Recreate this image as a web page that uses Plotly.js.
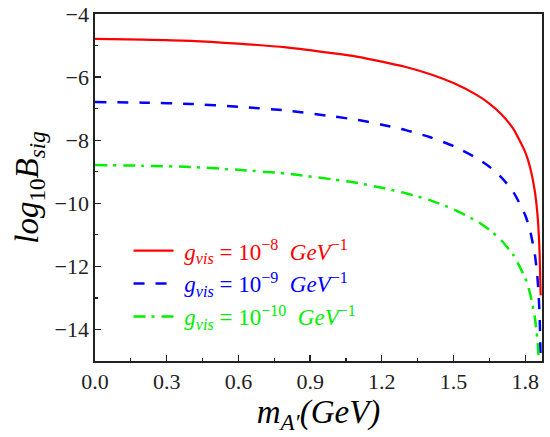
<!DOCTYPE html>
<html>
<head>
<meta charset="utf-8">
<script src="https://cdn.plot.ly/plotly-3.0.1.min.js"></script>
<style>html,body{margin:0;padding:0;background:#fff;}#plot{width:550px;height:437px;}</style>
</head>
<body>
<div id="plot"></div>
<script>
var mass = [0, 0.2, 0.4, 0.6, 0.8, 1.0, 1.1, 1.2, 1.3, 1.4, 1.5, 1.6, 1.65, 1.7, 1.75, 1.8, 1.82, 1.84, 1.85, 1.855, 1.86, 1.863, 1.8645, 1.8655, 1.866];
var logB_g8  = [-4.79, -4.81, -4.85, -4.94, -5.06, -5.25, -5.36, -5.51, -5.68, -5.90, -6.19, -6.58, -6.84, -7.18, -7.64, -8.38, -8.86, -9.62, -10.27, -10.77, -11.58, -12.52, -12.92, null, null];
var logB_g9  = [-6.79, -6.81, -6.85, -6.94, -7.06, -7.25, -7.36, -7.51, -7.68, -7.90, -8.19, -8.58, -8.84, -9.18, -9.64, -10.38, -10.86, -11.62, -12.27, -12.77, -13.58, -14.52, -15.2, -16.0, -17.0];
var logB_g10 = [-8.79, -8.81, -8.85, -8.94, -9.06, -9.25, -9.36, -9.51, -9.68, -9.90, -10.19, -10.58, -10.84, -11.18, -11.64, -12.38, -12.86, -13.62, -14.27, -14.77, -15.58, -16.5, -17.2, -18.0, -19.0];
var seriesNames = [
  '<span style="color:#ff0000"> <i>g</i><sub><i>vis</i></sub> = 10<sup>\u22128</sup>  <i>GeV</i><sup>\u22121</sup></span>',
  '<span style="color:#0000ff"> <i>g</i><sub><i>vis</i></sub> = 10<sup>\u22129</sup>  <i>GeV</i><sup>\u22121</sup></span>',
  '<span style="color:#00ee00"> <i>g</i><sub><i>vis</i></sub> = 10<sup>\u221210</sup>  <i>GeV</i><sup>\u22121</sup></span>'
];
var xTicks = [0, 0.3, 0.6, 0.9, 1.2, 1.5, 1.8];
var xTickText = ['0.0', '0.3', '0.6', '0.9', '1.2', '1.5', '1.8'];
var yTicks = [-4, -6, -8, -10, -12, -14];
var yTickText = ['\u22124', '\u22126', '\u22128', '\u221210', '\u221212', '\u221214'];

var serif = "Liberation Serif";
var traces = [
  {x: mass, y: logB_g8, mode: 'lines', name: seriesNames[0], line: {color: '#ff0000', width: 2.2, shape: 'spline', smoothing: 0.6}},
  {x: mass, y: logB_g9, mode: 'lines', name: seriesNames[1], line: {color: '#0000ff', width: 2.5, dash: '11px,11px', shape: 'spline', smoothing: 0.6}},
  {x: mass, y: logB_g10, mode: 'lines', name: seriesNames[2], line: {color: '#00ee00', width: 2.5, dash: '12px,6px,3px,7px', shape: 'spline', smoothing: 0.6}}
];

var layout = {
  width: 550, height: 437,
  margin: {l: 95, r: 8, t: 14, b: 76},
  font: {family: serif, size: 22, color: '#222'},
  paper_bgcolor: '#fff', plot_bgcolor: '#fff',
  showlegend: true,
  legend: {x: 0.075, y: 0.38, xanchor: 'left', yanchor: 'top', bgcolor: 'rgba(0,0,0,0)',
           font: {family: serif, size: 23}, itemwidth: 40, tracegroupgap: 0},
  xaxis: {
    range: [0, 1.87], tickmode: 'array', tickvals: xTicks, ticktext: xTickText,
    tickfont: {family: serif, size: 22, color: '#222'},
    ticks: 'inside', ticklen: 6, tickwidth: 1.3, tickcolor: '#222',
    minor: {dtick: 0.15, tick0: 0, ticks: 'inside', ticklen: 3, tickwidth: 1.2, tickcolor: '#222'},
    showline: true, linecolor: '#222', linewidth: 1.6, mirror: true,
    showgrid: false, zeroline: false,
    title: {text: '<i>m</i><sub><i>A\u2032</i></sub><i>(GeV)</i>', font: {family: serif, size: 33, color: '#000'}, standoff: 2}
  },
  yaxis: {
    range: [-15, -4], tickmode: 'array', tickvals: yTicks, ticktext: yTickText,
    tickfont: {family: serif, size: 22, color: '#222'},
    ticks: 'inside', ticklen: 6, tickwidth: 1.3, tickcolor: '#222',
    minor: {dtick: 1, tick0: -15, ticks: 'inside', ticklen: 3, tickwidth: 1.2, tickcolor: '#222'},
    showline: true, linecolor: '#222', linewidth: 1.6, mirror: true,
    showgrid: false, zeroline: false,
    title: {text: '<i>log</i><sub>10</sub><i>B</i><sub><i>sig</i></sub>', font: {family: serif, size: 33, color: '#000'}, standoff: 6}
  }
};
Plotly.newPlot('plot', traces, layout, {staticPlot: true, displayModeBar: false});
</script>
</body>
</html>
